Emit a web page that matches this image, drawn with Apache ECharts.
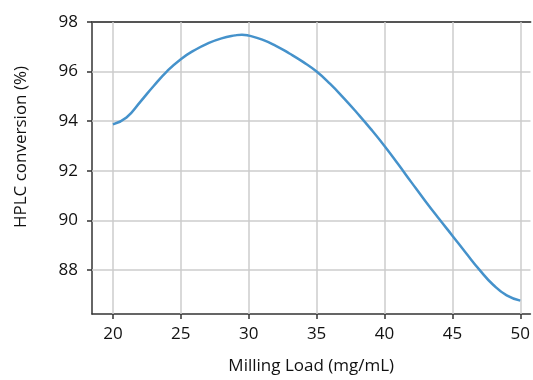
<!DOCTYPE html>
<html>
<head>
<meta charset="utf-8">
<script src="https://cdn.jsdelivr.net/npm/echarts@6/dist/echarts.min.js"></script>
<style>
  html, body { margin: 0; padding: 0; background: #fff; }
  #chart { width: 533px; height: 380px; }
</style>
</head>
<body>
<div id="chart"></div>
<script>
// values
var loadX = [20, 21, 22, 23, 24, 25, 26, 27, 28, 29, 29.5, 30, 31, 32, 33, 34, 35, 36, 37, 38, 39, 40,
             41, 42, 43, 44, 45, 46, 47, 48, 49, 50];
var conv = [93.87, 94.15, 94.77, 95.42, 96.02, 96.5, 96.86, 97.14, 97.34, 97.46, 97.49, 97.45,
            97.29, 97.04, 96.73, 96.39, 96.0, 95.5, 94.93, 94.32, 93.68, 93.0,
            92.27, 91.52, 90.78, 90.07, 89.38, 88.68, 88.0, 87.4, 86.97, 86.76];
var xTicks = [20, 25, 30, 35, 40, 45, 50];
var yTicks = [88, 90, 92, 94, 96, 98];

var font = 'Open Sans';
var points = [];
for (var i = 0; i < loadX.length; i++) {
    points.push([loadX[i], conv[i]]);
}

var myChart = echarts.init(document.getElementById('chart'));
var option = {
    animation: false,
    grid: {
        left: 92,
        right: 0,
        top: 22,
        bottom: 65
    },
    xAxis: [
        {
            type: 'value',
            min: 18.46,
            max: 50.75,
            name: 'Milling Load (mg/mL)',
            nameLocation: 'middle',
            nameGap: 44,
            nameTextStyle: { fontFamily: font, fontSize: 17, color: '#111' },
            axisLine: { show: true, lineStyle: { color: '#333', width: 1.5 } },
            axisTick: { show: true, length: 5, lineStyle: { color: '#333', width: 1.5 },
                customValues: xTicks },
            axisLabel: { fontFamily: font, fontSize: 17, color: '#111', margin: 12,
                customValues: xTicks },
            splitLine: { show: false }
        },
        {
            // top frame line
            type: 'value',
            position: 'top',
            min: 18.46,
            max: 50.75,
            axisLine: { show: true, onZero: false, lineStyle: { color: '#555', width: 2 } },
            axisTick: { show: false },
            axisLabel: { show: false },
            splitLine: { show: false }
        }
    ],
    yAxis: {
        type: 'value',
        min: 86.22,
        max: 98,
        name: 'HPLC conversion (%)',
        nameLocation: 'middle',
        nameGap: 62,
        nameTextStyle: { fontFamily: font, fontSize: 17, color: '#111', padding: [0, 0, 0, 42] },
        axisLine: { show: true, lineStyle: { color: '#333', width: 1.5 } },
        axisTick: { show: true, length: 5, lineStyle: { color: '#333', width: 1.5 },
            customValues: yTicks },
        axisLabel: { fontFamily: font, fontSize: 17, color: '#111', margin: 14,
            customValues: yTicks },
        splitLine: { show: false }
    },
    series: [
        {
            name: 'grid lines',
            type: 'line',
            data: [],
            silent: true,
            markLine: {
                symbol: 'none',
                silent: true,
                label: { show: false },
                lineStyle: { color: '#cccccc', width: 1.5, type: 'solid' },
                data: xTicks.map(function (v) { return { xAxis: v }; })
                    .concat(yTicks.slice(0, 5).map(function (v) { return { yAxis: v }; }))
            }
        },
        {
            name: 'conversion',
            type: 'line',
            data: points,
            smooth: true,
            showSymbol: false,
            lineStyle: { color: '#4592cb', width: 2.5 },
            z: 5
        }
    ]
};
myChart.setOption(option);
</script>
</body>
</html>
